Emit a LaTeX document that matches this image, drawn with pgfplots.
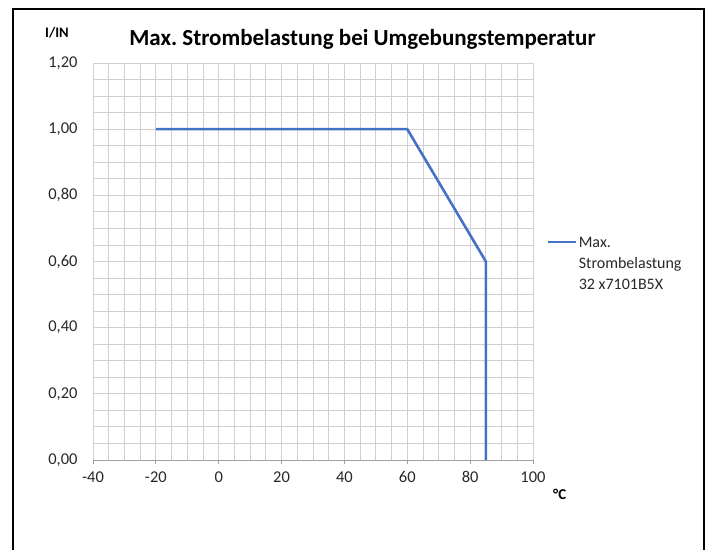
\documentclass[border=0pt]{standalone}
\usepackage{fontspec}
\setmainfont{Carlito}
\usepackage{pgfplots}
\pgfplotsset{compat=1.18}
\definecolor{xlblue}{RGB}{68,114,196}
\definecolor{gridc}{RGB}{208,208,208}
\definecolor{axc}{RGB}{160,160,160}
\definecolor{txt}{RGB}{40,40,40}
\frenchspacing
\begin{document}
\begin{tikzpicture}[x=1pt,y=1pt]
\path[use as bounding box] (0,0) rectangle (709,549);
\draw[black, line width=1.6pt] (13,-10) -- (13,540) -- (704,540) -- (704,-10);
\node[anchor=base, font=\bfseries\fontsize{23}{23}\selectfont] at (362.5,503) {Max. Strombelastung bei Umgebungstemperatur};
\node[anchor=base west, inner sep=0pt, font=\bfseries\fontsize{14.5}{14.5}\selectfont] at (45,511) {I/IN};
\node[anchor=base west, inner sep=0pt, font=\bfseries\fontsize{15}{15}\selectfont] at (553,50) {°C};
\begin{axis}[
  at={(93pt,89pt)}, anchor=south west,
  scale only axis, width=440pt, height=397pt,
  xmin=-40, xmax=100, ymin=0, ymax=1.2,
  xtick={-40,-20,...,100},
  xticklabels={-40,-20,0,20,40,60,80,100},
  ytick={0,0.2,0.4,0.6,0.8,1.0,1.2},
  yticklabels={{0,00},{0,20},{0,40},{0,60},{0,80},{1,00},{1,20}},
  minor x tick num=3, minor y tick num=3,
  grid=both,
  major grid style={draw=gridc, line width=0.9pt},
  minor grid style={draw=gridc, line width=0.9pt},
  axis x line*=bottom, axis y line*=left,
  y axis line style={draw=none},
  x axis line style={draw=axc, line width=0.9pt},
  xtick style={draw=axc, line width=0.9pt},
  ytick style={draw=none},
  minor tick length=0pt,
  major tick length=4pt,
  tick align=outside,
  ticklabel style={font=\fontsize{16.5}{16.5}\selectfont, text=txt},
  xticklabel style={yshift=-4pt},
  yticklabel style={xshift=-8pt},
  legend style={at={(axis description cs:1.03,0.567)}, anchor=north west, draw=none, fill=none, inner sep=0pt, outer sep=0pt, font=\fontsize{16}{21}\selectfont, cells={align=left, anchor=north west}, column sep=0pt, text=txt},
  legend image code/.code={\draw[#1] (0pt,-7pt) -- (28pt,-7pt);},
]
\addplot[color=xlblue, line width=2.6pt, line join=miter] coordinates {(-20,1) (60,1) (85,0.6) (85,0)};
\addlegendentry{Max.\\Strombelastung\\32 x7101B5X}
\end{axis}
\end{tikzpicture}
\end{document}
